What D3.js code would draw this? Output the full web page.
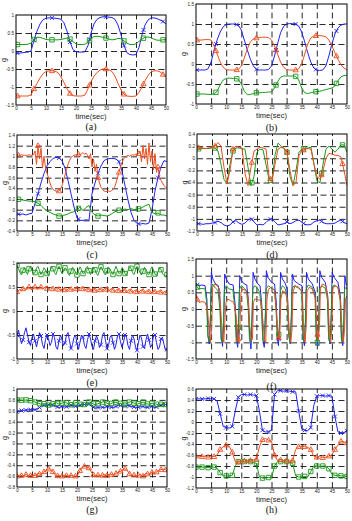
<!DOCTYPE html>
<html>
<head>
<meta charset="utf-8">
<script src="https://cdn.jsdelivr.net/npm/d3@7"></script>
<style>
body { margin: 0; background: #fff; }
svg { display: block; }
</style>
</head>
<body>
<svg id="fig"></svg>
<script>
// time axis
var timeTicks = [0, 5, 10, 15, 20, 25, 30, 35, 40, 45, 50];

// (a)
var aYTicks = [-1.5, -1, -0.5, 0, 0.5, 1];
var aBlue = [-0.06,-0.06,-0.05,-0.04,-0.03,0.0,0.3,0.55,0.75,0.87, 0.91,0.92,0.92,0.91,0.9,0.88,0.78,0.55,0.25,0.04, -0.02,-0.03,-0.03,-0.02,0.15,0.5,0.75,0.88,0.93,0.95, 0.95,0.94,0.93,0.88,0.72,0.45,0.15,-0.05,-0.1,-0.11, -0.1,0.1,0.45,0.72,0.86,0.92,0.92,0.9,0.86,0.82, 0.76];
var aGreen = [0.18,0.18,0.18,0.18,0.19,0.22,0.32,0.38,0.38,0.35, 0.32,0.31,0.31,0.31,0.31,0.32,0.34,0.36,0.33,0.26, 0.2,0.18,0.18,0.19,0.24,0.34,0.4,0.41,0.4,0.38, 0.36,0.33,0.31,0.32,0.35,0.34,0.28,0.22,0.18,0.18, 0.2,0.27,0.33,0.38,0.39,0.37,0.33,0.3,0.3,0.31, 0.32];
var aRed = [-1.25,-1.25,-1.25,-1.25,-1.25,-1.22,-1.05,-0.9,-0.75,-0.63, -0.57,-0.55,-0.55,-0.56,-0.6,-0.72,-0.88,-1.05,-1.18,-1.24, -1.25,-1.25,-1.25,-1.22,-1.05,-0.85,-0.7,-0.6,-0.53,-0.5, -0.5,-0.52,-0.57,-0.7,-0.9,-1.08,-1.2,-1.25,-1.26,-1.26, -1.25,-1.15,-1.0,-0.83,-0.68,-0.58,-0.55,-0.55,-0.58,-0.65, -0.72];
var aMarks = [0.5, 6, 12, 18, 24.5, 30, 36, 42.5, 49];

// (b)
var bYTicks = [-1, -0.5, 0, 0.5, 1, 1.5];
var bBlue = [-0.15,-0.15,-0.15,-0.15,-0.12,0.05,0.35,0.6,0.8,0.93, 0.99,1.0,1.0,1.0,0.97,0.85,0.6,0.35,0.12,-0.05, -0.13,-0.15,-0.15,-0.15,-0.14,-0.05,0.2,0.5,0.78,0.94, 1.0,1.01,1.01,1.0,0.95,0.8,0.55,0.28,0.05,-0.1, -0.15,-0.16,-0.15,-0.05,0.2,0.5,0.75,0.9,0.97,1.0, 1.0];
var bGreen = [-0.75,-0.75,-0.75,-0.75,-0.76,-0.76,-0.75,-0.68,-0.52,-0.4, -0.36,-0.35,-0.36,-0.36,-0.38,-0.5,-0.68,-0.77,-0.76,-0.74, -0.72,-0.72,-0.71,-0.71,-0.7,-0.7,-0.6,-0.45,-0.33,-0.3, -0.3,-0.3,-0.3,-0.31,-0.4,-0.6,-0.72,-0.74,-0.72,-0.7, -0.69,-0.68,-0.66,-0.64,-0.62,-0.6,-0.55,-0.42,-0.32,-0.29, -0.28];
var bRed = [0.6,0.6,0.6,0.61,0.61,0.6,0.45,0.25,0.05,-0.08, -0.14,-0.15,-0.15,-0.15,-0.14,-0.05,0.15,0.38,0.55,0.63, 0.65,0.66,0.67,0.67,0.66,0.6,0.45,0.25,0.05,-0.08, -0.14,-0.15,-0.15,-0.15,-0.12,0.0,0.25,0.5,0.65,0.7, 0.71,0.71,0.7,0.68,0.6,0.45,0.28,0.12,-0.02,-0.1, -0.15];
var bMarks = [0.3, 6.6, 13.5, 20, 26.5, 33, 39.7, 46.5];

// (c)
var cYTicks = [-0.4, -0.2, 0, 0.2, 0.4, 0.6, 0.8, 1, 1.2, 1.4];
var cBlue = [-0.08,-0.09,-0.08,-0.1,-0.08,-0.07,0.12,0.3,0.5,0.68, 0.82,0.9,0.96,0.98,0.97,0.92,0.78,0.55,0.3,0.05, -0.15,-0.2,-0.2,-0.19,-0.2,0.3,0.5,0.68,0.82,0.92, 0.95,0.96,0.96,0.95,0.9,0.72,0.45,0.18,-0.05,-0.2, -0.26,-0.27,-0.26,-0.27,-0.25,0.0,0.35,0.6,0.8,0.92, 0.9];
var cGreen = [0.2,0.19,0.18,0.17,0.16,0.16,0.15,0.12,0.08,0.02, -0.02,-0.05,-0.08,-0.1,-0.12,-0.11,-0.1,-0.08,-0.05,-0.04, 0.0,0.05,-0.02,0.04,0.08,-0.05,-0.1,-0.12,-0.1,-0.11, -0.12,-0.1,-0.06,-0.03,-0.01,0.0,0.01,0.0,0.02,0.0, 0.01,0.02,0.05,0.08,0.1,-0.05,-0.08,-0.06,-0.1,-0.1, -0.12];
var cRed = [1.02,1.02,1.02,1.03,1.02,1.02,1.02,1.02,1.03,1.02,1.02,1.03,
  1.1,0.85,1.2,0.95,1.15,0.78,1.0,0.8,
  0.68,0.6,0.5,0.42,0.38,0.36,0.35,0.34,0.35,0.38,
  0.45,0.55,0.65,0.75,0.85,0.92,0.98,1.0,1.02,1.03,
  1.02,1.04,1.03,1.05,1.07,1.04,1.06,1.02,0.95,1.05,
  0.8,0.95,0.72,0.85,0.6,0.5,0.42,0.38,0.35,0.34,
  0.34,0.35,0.34,0.36,0.38,0.42,0.5,0.6,0.7,0.8,
  0.88,0.95,0.98,1.0,1.02,1.0,1.02,1.03,1.02,1.04,
  1.03,1.05,1.1,0.9,1.2,0.95,1.15,0.85,1.25,0.9,
  1.1,0.75,1.05,0.7,0.8,0.6,0.55,0.5,0.45,0.42,
  0.4];
var cMarks = [0.5, 7, 14, 20.5, 27, 34, 40.5, 47];

// (d)
var dYTicks = [-1.2, -1, -0.8, -0.6, -0.4, -0.2, 0, 0.2, 0.4];
var dBlue = [-1.08,-1.08,-1.09,-1.08,-1.08,-1.07,-1.06,-1.04,-1.06,-1.1, -1.12,-1.1,-1.05,-1.03,-1.07,-1.09,-1.07,-1.02,-0.99,-1.05, -1.1,-1.09,-1.1,-1.06,-1.01,-1.0,-1.05,-1.1,-1.09,-1.08, -1.05,-1.08,-1.06,-1.03,-1.02,-1.06,-1.09,-1.1,-1.09,-1.05, -1.03,-1.02,-1.06,-1.08,-1.08,-1.08,-1.07,-1.04,-1.02,-1.06, -1.08];
var dGreen = [0.15,0.16,0.16,0.16,0.16,0.17,0.17,0.12,-0.1,-0.35, -0.42,-0.1,0.12,0.17,0.17,0.16,0.15,-0.15,-0.45,-0.3, 0.1,0.15,0.14,-0.1,-0.35,-0.38,0.05,0.25,0.2,0.15, 0.1,-0.3,-0.45,-0.2,0.1,0.15,0.16,0.17,0.18,-0.1, -0.38,-0.4,-0.1,0.15,0.2,0.15,0.1,0.15,0.22,0.22, 0.1];
var dRed = [0.17,0.18,0.17,0.16,0.17,0.18,0.2,0.26,0.2,-0.15, -0.42,-0.2,0.15,0.2,0.18,0.17,-0.25,-0.45,-0.15,0.12, 0.15,0.18,0.17,0.15,-0.3,-0.38,-0.1,0.15,0.18,0.17, 0.1,-0.2,-0.45,-0.4,0.05,0.12,0.15,0.16,0.15,-0.1, -0.3,-0.35,-0.2,0.0,0.08,0.07,0.05,0.05,0.02,-0.2, -0.45];
var dMarks = [0.5, 6, 12, 18.3, 24.5, 30, 35.5, 41.5, 48.5];

// (e)
var eYTicks = [-1, -0.5, 0, 0.5, 1];
var eBlue = [-0.5,-0.4,-0.55,-0.68,-0.6,-0.45,-0.35,-0.5,-0.65,-0.72,
  -0.55,-0.48,-0.62,-0.75,-0.6,-0.45,-0.52,-0.7,-0.78,-0.6,
  -0.5,-0.58,-0.72,-0.65,-0.48,-0.55,-0.75,-0.8,-0.62,-0.5,
  -0.6,-0.72,-0.66,-0.5,-0.45,-0.62,-0.78,-0.7,-0.55,-0.5,
  -0.68,-0.8,-0.65,-0.5,-0.55,-0.72,-0.78,-0.6,-0.48,-0.58,
  -0.74,-0.8,-0.62,-0.52,-0.6,-0.76,-0.7,-0.5,-0.45,-0.62,
  -0.78,-0.72,-0.55,-0.5,-0.66,-0.8,-0.7,-0.52,-0.48,-0.64,
  -0.76,-0.65,-0.5,-0.55,-0.72,-0.8,-0.62,-0.5,-0.58,-0.75,
  -0.82,-0.65,-0.5,-0.56,-0.74,-0.78,-0.6,-0.48,-0.6,-0.76,
  -0.7,-0.52,-0.5,-0.66,-0.8,-0.75,-0.58,-0.55,-0.7,-0.82,
  -0.8];
var eGreen = [0.95,0.88,0.8,0.75,0.85,0.9,0.82,0.76,0.88,0.92,
  0.85,0.78,0.8,0.9,0.93,0.84,0.76,0.82,0.9,0.86,
  0.78,0.74,0.84,0.92,0.88,0.8,0.76,0.86,0.93,0.85,
  0.78,0.82,0.9,0.87,0.78,0.74,0.83,0.91,0.88,0.8,
  0.75,0.84,0.92,0.86,0.78,0.8,0.9,0.93,0.84,0.76,
  0.82,0.9,0.86,0.77,0.74,0.85,0.92,0.87,0.79,0.75,
  0.84,0.91,0.88,0.8,0.76,0.86,0.93,0.85,0.78,0.8,
  0.9,0.87,0.78,0.74,0.84,0.92,0.89,0.8,0.76,0.85,
  0.93,0.88,0.8,0.75,0.83,0.91,0.87,0.78,0.76,0.86,
  0.92,0.85,0.77,0.73,0.82,0.9,0.86,0.78,0.74,0.72,
  0.76];
var eRed = [0.4,0.43,0.45,0.42,0.46,0.48,0.44,0.47,0.5,0.46,
  0.44,0.48,0.5,0.47,0.45,0.49,0.5,0.46,0.48,0.51,
  0.47,0.45,0.48,0.5,0.46,0.44,0.47,0.49,0.45,0.43,
  0.46,0.48,0.44,0.42,0.46,0.48,0.45,0.43,0.47,0.49,
  0.46,0.44,0.47,0.5,0.46,0.43,0.45,0.48,0.44,0.42,
  0.46,0.47,0.43,0.41,0.45,0.47,0.44,0.42,0.46,0.48,
  0.45,0.42,0.44,0.47,0.43,0.4,0.43,0.46,0.42,0.4,
  0.44,0.46,0.42,0.39,0.43,0.45,0.41,0.39,0.42,0.44,
  0.4,0.38,0.42,0.44,0.41,0.38,0.41,0.43,0.4,0.37,
  0.4,0.43,0.4,0.38,0.41,0.42,0.39,0.37,0.4,0.41,
  0.38];
var eMarks = [0,2,4,6,8,10,12,14,16,18,20,22,24,26,28,30,32,34,36,38,40,42,44,46,48,50];

// (f) irregular samples: [time, value]
var fYTicks = [-1.5, -1, -0.5, 0, 0.5, 1, 1.5];
var fBlue = [[0,0.75],[1,0.7],[2,0.72],[3,0.7],[3.6,0.3],[4,-0.8],[4.4,-1.05],[4.8,-0.2],[5.1,1.1],[5.6,0.9],[6.5,0.75],[7.4,0.7],[8,0.2],[8.4,-0.9],[8.8,-1.12],[9.2,-0.3],[9.5,1.05],[10,0.9],[11,0.75],[12.3,0.72],[13,0.1],[13.4,-0.9],[13.8,-1.15],[14.2,-0.2],[14.5,1.0],[15,0.85],[16,0.75],[16.8,0.72],[17.4,0.2],[17.8,-0.9],[18.2,-1.2],[18.6,-0.3],[18.9,1.1],[19.5,0.9],[20.5,0.75],[21.2,0.7],[21.8,0.1],[22.2,-0.95],[22.6,-1.15],[23,-0.2],[23.3,1.15],[23.8,0.95],[25,0.8],[26,0.75],[26.6,0.2],[27,-0.9],[27.3,-1.1],[27.7,-0.3],[28,1.1],[28.6,0.9],[29.5,0.78],[30.2,0.6],[30.8,-0.8],[31.2,-1.05],[31.6,-0.2],[31.9,1.05],[32.5,0.85],[34,0.75],[35.1,0.7],[35.5,-0.8],[35.9,-1.1],[36.3,-0.3],[36.6,1.1],[37.2,0.9],[38.5,0.75],[39.5,0.5],[39.9,-0.9],[40.3,-1.1],[40.7,-0.2],[41,1.15],[41.6,0.95],[42.8,0.8],[43.6,0.4],[44,-0.9],[44.4,-1.05],[44.8,-0.2],[45.1,1.1],[45.7,0.95],[47,0.8],[47.8,0.4],[48.2,-0.9],[48.6,-1.1],[49,-0.3],[49.3,1.0],[49.7,0.75],[50,0.7]];
var fGreen = [[0,0.7],[1,0.6],[2,0.62],[3,0.6],[3.5,0.2],[3.9,-0.8],[4.3,-1.0],[4.7,-0.5],[5,0.6],[5.5,0.75],[6.5,0.62],[7.3,0.55],[7.9,0.0],[8.3,-0.9],[8.7,-1.0],[9.1,-0.4],[9.4,0.55],[10,0.7],[11,0.6],[12.2,0.58],[12.9,0.0],[13.3,-0.9],[13.7,-1.0],[14.1,-0.4],[14.4,0.6],[15,0.7],[16,0.62],[16.7,0.55],[17.3,0.0],[17.7,-0.9],[18.1,-1.0],[18.5,-0.3],[18.8,0.6],[19.5,0.7],[20.5,0.6],[21.1,0.5],[21.7,-0.1],[22.1,-0.9],[22.5,-1.0],[22.9,-0.3],[23.2,0.6],[24,0.7],[25,0.62],[26,0.58],[26.5,0.0],[26.9,-0.85],[27.3,-0.82],[27.7,-0.6],[28,0.55],[28.6,0.7],[29.5,0.62],[30.1,0.4],[30.7,-0.8],[31.1,-1.0],[31.5,-0.4],[31.8,0.6],[32.5,0.7],[34,0.62],[35,0.55],[35.4,-0.8],[35.8,-1.0],[36.2,-0.4],[36.5,0.6],[37.2,0.72],[38.5,0.65],[39.4,0.4],[39.8,-0.85],[40.2,-1.0],[40.6,-0.4],[40.9,0.6],[41.6,0.7],[42.8,0.62],[43.5,0.3],[43.9,-0.85],[44.3,-1.0],[44.7,-0.4],[45,0.6],[45.7,0.72],[47,0.65],[47.7,0.3],[48.1,-0.85],[48.5,-1.0],[48.9,-0.4],[49.2,0.6],[49.7,0.65],[50,0.6]];
var fRed = [[0,0.45],[0.5,0.25],[1,0.2],[2,0.22],[3,0.2],[3.8,0.0],[4.3,-0.6],[4.8,-1.0],[5.2,-0.5],[5.5,0.65],[6.2,0.75],[7,0.7],[7.8,0.6],[8.3,-0.2],[8.8,-0.8],[9.2,-1.0],[9.6,-0.3],[9.9,0.2],[10.5,0.3],[11.5,0.25],[12.5,0.2],[13.3,-0.2],[13.8,-0.8],[14.2,-1.0],[14.6,-0.4],[14.9,0.5],[15.5,0.6],[16.5,0.55],[17.2,0.4],[17.8,-0.5],[18.3,-0.95],[18.7,-0.9],[19,0.2],[19.5,0.3],[20.5,0.28],[21.5,0.25],[22.2,-0.4],[22.7,-0.95],[23.1,-1.0],[23.5,0.3],[24,0.6],[25,0.65],[26,0.55],[26.8,-0.3],[27.3,-0.85],[27.7,-0.9],[28.1,0.3],[28.7,0.55],[29.5,0.5],[30.3,0.3],[30.9,-0.7],[31.4,-1.0],[31.8,-0.6],[32.1,0.5],[32.8,0.7],[34,0.65],[35.2,0.5],[35.7,-0.7],[36.1,-1.0],[36.5,-0.5],[36.8,0.55],[37.5,0.65],[38.5,0.6],[39.6,0.3],[40.1,-0.7],[40.5,-0.95],[40.9,-0.5],[41.2,0.6],[41.8,0.75],[43,0.7],[43.7,0.3],[44.2,-0.7],[44.6,-1.0],[45,-0.5],[45.3,0.6],[46,0.7],[47,0.65],[47.9,0.2],[48.4,-0.7],[48.8,-1.0],[49.2,-0.6],[49.5,0.3],[50,0.4]];
var fMarks = [0.4, 14, 27.4, 40.2];

// (g)
var gYTicks = [-0.8, -0.6, -0.4, -0.2, 0, 0.2, 0.4, 0.6, 0.8, 1];
var gBlue = [0.58,0.6,0.61,0.61,0.62,0.62,0.62,0.64,0.68,0.7, 0.7,0.72,0.7,0.68,0.66,0.68,0.67,0.68,0.7,0.69, 0.68,0.7,0.72,0.71,0.72,0.68,0.65,0.66,0.67,0.66, 0.68,0.67,0.66,0.68,0.7,0.69,0.68,0.7,0.68,0.67, 0.66,0.67,0.68,0.66,0.67,0.68,0.66,0.68,0.7,0.72, 0.71];
var gGreen = [0.8,0.8,0.79,0.8,0.78,0.79,0.76,0.74,0.72,0.73, 0.71,0.7,0.73,0.75,0.72,0.74,0.76,0.73,0.71,0.74, 0.75,0.72,0.7,0.73,0.76,0.74,0.71,0.73,0.75,0.77, 0.74,0.72,0.75,0.76,0.73,0.74,0.72,0.75,0.77,0.74, 0.72,0.74,0.76,0.73,0.72,0.74,0.73,0.71,0.72,0.73, 0.7];
var gRed = [-0.6,-0.58,-0.6,-0.57,-0.6,-0.58,-0.59,-0.55,-0.57,-0.52, -0.48,-0.46,-0.52,-0.6,-0.59,-0.6,-0.58,-0.6,-0.59,-0.6, -0.6,-0.5,-0.42,-0.42,-0.45,-0.55,-0.6,-0.58,-0.6,-0.57, -0.59,-0.56,-0.58,-0.55,-0.52,-0.5,-0.46,-0.52,-0.6,-0.58, -0.6,-0.57,-0.6,-0.55,-0.57,-0.53,-0.55,-0.5,-0.48,-0.47, -0.5];
var gMarks = [0,1.5,3,4.5,6,7.5,9,10.5,12,13.5,15,16.5,18,19.5,21,22.5,24,25.5,27,28.5,30,31.5,33,34.5,36,37.5,39,40.5,42,43.5,45,46.5,48,49.5];

// (h)
var hYTicks = [-1.2, -1, -0.8, -0.6, -0.4, -0.2, 0, 0.2, 0.4, 0.6];
var hBlue = [0.42,0.42,0.42,0.42,0.43,0.42,0.42,0.38,0.15,-0.08, -0.1,-0.11,-0.08,0.2,0.45,0.5,0.5,0.49,0.5,0.49, 0.48,0.2,-0.15,-0.18,-0.18,-0.15,0.5,0.57,0.57,0.56, 0.57,0.56,0.55,0.55,0.2,-0.12,-0.15,-0.16,-0.1,0.3, 0.47,0.48,0.48,0.47,0.48,0.47,0.1,-0.18,-0.2,-0.19, -0.16];
var hGreen = [-0.82,-0.82,-0.82,-0.82,-0.83,-0.82,-0.82,-0.84,-0.92,-0.98, -0.98,-0.98,-0.97,-0.8,-0.72,-0.72,-0.72,-0.73,-0.72,-0.74, -0.75,-1.0,-1.02,-1.02,-1.01,-1.02,-0.8,-0.72,-0.72,-0.73, -0.72,-0.74,-0.75,-0.98,-1.0,-1.0,-0.99,-1.0,-0.9,-0.8, -0.8,-0.81,-0.8,-0.8,-0.85,-0.95,-0.97,-0.97,-0.98,-0.98, -0.99];
var hRed = [-0.62,-0.62,-0.63,-0.62,-0.64,-0.62,-0.63,-0.6,-0.5,-0.45, -0.42,-0.44,-0.55,-0.72,-0.73,-0.7,-0.71,-0.7,-0.7,-0.69, -0.68,-0.45,-0.32,-0.3,-0.33,-0.35,-0.6,-0.7,-0.69,-0.7, -0.7,-0.71,-0.7,-0.5,-0.45,-0.44,-0.45,-0.46,-0.5,-0.62, -0.64,-0.63,-0.65,-0.64,-0.62,-0.6,-0.5,-0.42,-0.35,-0.36, -0.38];
var hMarks = [0,2,4,6,8,10,12,14,16,18,20,22,24,26,28,30,32,34,36,38,40,42,44,46,48,50];

var captions = ["(a)", "(b)", "(c)", "(d)", "(e)", "(f)", "(g)", "(h)"];

// layout of each subplot (pixels)
var panels = [
  {L:16,  R:166, T:15,  B:105, cap:126, yt:aYTicks, s:[aBlue, aGreen, aRed], m:aMarks},
  {L:196, R:347, T:4,   B:104, cap:127, yt:bYTicks, s:[bBlue, bGreen, bRed], m:bMarks},
  {L:17,  R:167, T:135, B:231, cap:254, yt:cYTicks, s:[cBlue, cGreen, cRed], m:cMarks},
  {L:197, R:347, T:134, B:231, cap:254, yt:dYTicks, s:[dBlue, dGreen, dRed], m:dMarks},
  {L:17,  R:167, T:263, B:359, cap:382, yt:eYTicks, s:[eBlue, eGreen, eRed], m:eMarks},
  {L:196, R:347, T:259, B:359, cap:386, yt:fYTicks, s:[fBlue, fGreen, fRed], m:fMarks},
  {L:17,  R:167, T:389, B:487, cap:509, yt:gYTicks, s:[gBlue, gGreen, gRed], m:gMarks},
  {L:196, R:347, T:389, B:488, cap:509, yt:hYTicks, s:[hBlue, hGreen, hRed], m:hMarks}
];

var colors = ["#2121f2", "#1d981d", "#ee4d1e"];
var shapes = ["x", "square", "triangle"];

var svg = d3.select("#fig").attr("width", 352).attr("height", 521);

function toPoints(vals) {
  var n = vals.length;
  return vals.map(function(v, i) { return Array.isArray(v) ? v : [i * 50 / (n - 1), v]; });
}

function valueAt(pts, t) {
  var i = d3.bisector(function(d) { return d[0]; }).left(pts, t);
  if (i <= 0) return pts[0][1];
  if (i >= pts.length) return pts[pts.length - 1][1];
  var a = pts[i - 1], b = pts[i];
  return a[1] + (t - a[0]) / (b[0] - a[0]) * (b[1] - a[1]);
}

function fmt(d) { return String(Math.round(d * 10) / 10); }

panels.forEach(function(p, k) {
  var x = d3.scaleLinear().domain([0, 50]).range([p.L, p.R]);
  var y = d3.scaleLinear().domain([p.yt[0], p.yt[p.yt.length - 1]]).range([p.B, p.T]);
  var g = svg.append("g");

  // dashed grid
  var gx = g.append("g").attr("transform", "translate(0," + p.B + ")")
    .call(d3.axisBottom(x).tickValues(timeTicks.slice(1, -1)).tickSize(-(p.B - p.T)).tickFormat(""));
  var gy = g.append("g").attr("transform", "translate(" + p.L + ",0)")
    .call(d3.axisLeft(y).tickValues(p.yt.slice(1, -1)).tickSize(-(p.R - p.L)).tickFormat(""));
  [gx, gy].forEach(function(a) {
    a.select(".domain").remove();
    a.selectAll("line").attr("stroke", "#111").attr("stroke-width", 0.9).attr("stroke-dasharray", "6,3.5");
  });

  // tick labels
  var ax = g.append("g").attr("transform", "translate(0," + p.B + ")")
    .call(d3.axisBottom(x).tickValues(timeTicks).tickSize(0).tickPadding(1.5).tickFormat(fmt));
  var ay = g.append("g").attr("transform", "translate(" + p.L + ",0)")
    .call(d3.axisLeft(y).tickValues(p.yt).tickSize(0).tickPadding(2).tickFormat(fmt));
  [ax, ay].forEach(function(a) {
    a.select(".domain").remove();
    a.selectAll("text").attr("font-size", 4.6).attr("font-family", "Liberation Sans, Arial, sans-serif").attr("fill", "#222");
  });

  // clip
  var cid = "clip" + k;
  svg.append("clipPath").attr("id", cid).append("rect")
    .attr("x", p.L).attr("y", p.T).attr("width", p.R - p.L).attr("height", p.B - p.T);
  var plot = g.append("g").attr("clip-path", "url(#" + cid + ")");

  var line = d3.line().x(function(d) { return x(d[0]); }).y(function(d) { return y(d[1]); });

  p.s.forEach(function(vals, j) {
    var pts = toPoints(vals);
    plot.append("path").datum(pts)
      .attr("d", line).attr("fill", "none")
      .attr("stroke", colors[j]).attr("stroke-width", 1).attr("stroke-linejoin", "round");

    var mk = plot.append("g").selectAll("path").data(p.m).enter().append("path")
      .attr("transform", function(t) { return "translate(" + x(t) + "," + y(valueAt(pts, t)) + ")"; })
      .attr("fill", "none").attr("stroke", colors[j]).attr("stroke-width", 0.9);
    if (shapes[j] === "x") mk.attr("d", "M-2,-2L2,2M-2,2L2,-2");
    else if (shapes[j] === "square") mk.attr("d", "M-2.2,-2.2H2.2V2.2H-2.2Z");
    else mk.attr("d", "M0,-2.8L2.6,1.8H-2.6Z");
  });

  // frame
  g.append("rect").attr("x", p.L).attr("y", p.T).attr("width", p.R - p.L).attr("height", p.B - p.T)
    .attr("fill", "none").attr("stroke", "#000").attr("stroke-width", 1);

  // axis titles
  g.append("text").attr("x", (p.L + p.R) / 2).attr("y", p.B + 14)
    .attr("text-anchor", "middle").attr("font-size", 7.5)
    .attr("font-family", "Liberation Sans, Arial, sans-serif").attr("fill", "#222")
    .text("time(sec)");
  g.append("text")
    .attr("transform", "translate(" + (p.L - 10) + "," + ((p.T + p.B) / 2) + ") rotate(-90)")
    .attr("text-anchor", "middle").attr("font-size", 7)
    .attr("font-family", "Liberation Sans, Arial, sans-serif").attr("fill", "#222")
    .text("g");
  g.append("text").attr("x", (p.L + p.R) / 2).attr("y", p.cap + 4)
    .attr("text-anchor", "middle").attr("font-size", 10)
    .attr("font-family", "Liberation Serif, Times New Roman, serif").attr("fill", "#111")
    .text(captions[k]);
});
</script>
</body>
</html>
